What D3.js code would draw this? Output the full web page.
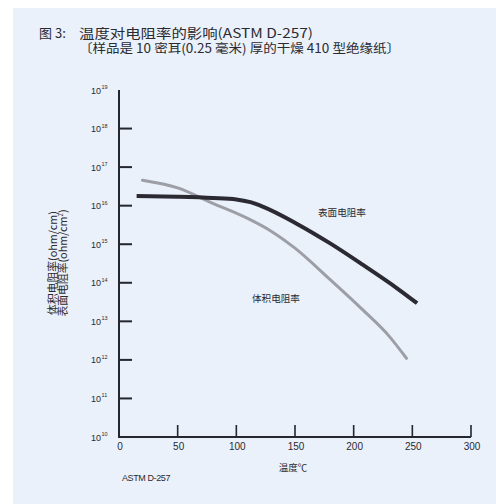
<!DOCTYPE html>
<html>
<head>
<meta charset="utf-8">
<script src="https://cdn.jsdelivr.net/npm/d3@7"></script>
<style>
  body { margin: 0; background: #fff; }
  svg { display: block; }
</style>
</head>
<body>
<div id="chart"></div>
<script>
// temperature (°C) and resistivity values
const surfaceTemp = [15, 50, 80, 100, 112, 123, 151, 180, 208, 237, 254];
const surfaceVals = [1.78e16, 1.7e16, 1.58e16, 1.45e16, 1.23e16, 9.3e15, 3.47e15, 1.05e15, 2.9e14, 7.2e13, 2.95e13];
const volumeTemp = [20, 50, 80, 110, 130, 150, 180, 208, 230, 245];
const volumeVals = [4.57e16, 2.9e16, 1.15e16, 4.6e15, 2.15e15, 7.9e14, 1.2e14, 1.95e13, 4.2e12, 1.1e12];
const xTicks = [0, 50, 100, 150, 200, 250, 300];
const yExps = [10, 11, 12, 13, 14, 15, 16, 17, 18, 19];

const W = 496, H = 504;
const svg = d3.select("#chart").append("svg")
  .attr("width", W).attr("height", H);

// scanned page background
svg.append("rect").attr("x", 13).attr("y", 8)
  .attr("width", W - 13).attr("height", H - 8)
  .attr("fill", "#eaf1fa");

const x = d3.scaleLinear().domain([0, 300]).range([119, 471]);
const y = d3.scaleLog().domain([1e10, 1e19]).range([437, 90]);

const ink = "#26262e";
const txt = "#2a2a30";
const sans = "'Liberation Sans', Arial, sans-serif";
const cjk = "'Noto Sans CJK SC', sans-serif";

// title
const title = svg.append("g")
  .style("font-family", cjk)
  .attr("fill", txt);
title.append("text").attr("x", 39).attr("y", 38)
  .style("font-size", "13px").text("图 3:");
title.append("text").attr("x", 79).attr("y", 38)
  .style("font-size", "13px")
  .attr("textLength", 234).attr("lengthAdjust", "spacingAndGlyphs")
  .text("温度对电阻率的影响(ASTM  D-257)");
title.append("text").attr("x", 79).attr("y", 53)
  .style("font-size", "12.5px")
  .attr("textLength", 321).attr("lengthAdjust", "spacingAndGlyphs")
  .text("〔样品是 10 密耳(0.25 毫米) 厚的干燥 410 型绝缘纸〕");

// axis lines
svg.append("rect")
  .attr("x", x(0) - 1).attr("y", y(1e19))
  .attr("width", 2).attr("height", y(1e10) - y(1e19) + 1)
  .attr("fill", ink);
svg.append("rect")
  .attr("x", x(0) - 1).attr("y", y(1e10) - 1)
  .attr("width", x(300) - x(0) + 1).attr("height", 2)
  .attr("fill", ink);

// y ticks point inward (to the right), none at the ends
svg.selectAll("rect.ytick")
  .data(yExps.filter(e => e > 10 && e < 19))
  .enter().append("rect")
  .attr("class", "ytick")
  .attr("x", x(0))
  .attr("y", e => y(Math.pow(10, e)) - 1)
  .attr("width", 13)
  .attr("height", 2)
  .attr("fill", ink);

// x ticks point upward
svg.selectAll("rect.xtick")
  .data(xTicks.filter(d => d > 0))
  .enter().append("rect")
  .attr("class", "xtick")
  .attr("x", d => x(d) - 0.8)
  .attr("y", y(1e10) - 12)
  .attr("width", 1.6)
  .attr("height", 12)
  .attr("fill", ink);

// y tick labels: 10 with superscript exponent
svg.selectAll("text.ylab")
  .data(yExps)
  .enter().append("text")
  .attr("class", "ylab")
  .attr("x", 101)
  .attr("y", e => y(Math.pow(10, e)) + 3.5)
  .attr("text-anchor", "end")
  .style("font-family", sans)
  .style("font-size", "9px")
  .attr("fill", txt)
  .text("10");
svg.selectAll("text.yexp")
  .data(yExps)
  .enter().append("text")
  .attr("class", "yexp")
  .attr("x", 101.5)
  .attr("y", e => y(Math.pow(10, e)) - 1)
  .style("font-family", sans)
  .style("font-size", "5.5px")
  .attr("fill", txt)
  .text(e => e);

svg.selectAll("text.xlab")
  .data(xTicks)
  .enter().append("text")
  .attr("class", "xlab")
  .attr("x", d => x(d) + 1)
  .attr("y", 450)
  .attr("text-anchor", "middle")
  .style("font-family", sans)
  .style("font-size", "10px")
  .attr("fill", txt)
  .text(d => d);

svg.append("text")
  .attr("x", 293).attr("y", 471)
  .attr("text-anchor", "middle")
  .style("font-family", cjk)
  .style("font-size", "9.5px")
  .attr("fill", txt)
  .text("温度℃");

svg.append("text")
  .attr("x", 122).attr("y", 481)
  .style("font-family", sans)
  .style("font-size", "9px")
  .style("letter-spacing", "-0.4px")
  .attr("fill", txt)
  .text("ASTM D-257");

// y axis title, two rotated lines
const ytitle = svg.append("g")
  .attr("transform", "translate(0,263) rotate(-90)")
  .style("font-family", cjk)
  .style("font-size", "10.8px")
  .attr("fill", txt)
  .attr("text-anchor", "middle");
ytitle.append("text").attr("x", 0).attr("y", 57).text("体积电阻率(ohm/cm)");
const t2 = ytitle.append("text").attr("x", 0).attr("y", 67);
t2.append("tspan").text("表面电阻率(ohm/cm");
t2.append("tspan").attr("dy", -4).style("font-size", "6px").text("2");
t2.append("tspan").attr("dy", 4).text(")");

// curves
const line = d3.line()
  .x(d => x(d[0]))
  .y(d => y(d[1]))
  .curve(d3.curveMonotoneX);

svg.append("path")
  .attr("d", line(d3.zip(volumeTemp, volumeVals)))
  .attr("fill", "none")
  .attr("stroke", "#9d9ea6")
  .attr("stroke-width", 3)
  .attr("stroke-linecap", "round");

svg.append("path")
  .attr("d", line(d3.zip(surfaceTemp, surfaceVals)))
  .attr("fill", "none")
  .attr("stroke", "#2b2a33")
  .attr("stroke-width", 4);

// curve annotations
svg.append("text")
  .attr("x", 318).attr("y", 216)
  .style("font-family", cjk)
  .style("font-size", "9.6px")
  .attr("fill", txt)
  .text("表面电阻率");
svg.append("text")
  .attr("x", 252).attr("y", 302)
  .style("font-family", cjk)
  .style("font-size", "9.6px")
  .attr("fill", txt)
  .text("体积电阻率");
</script>
</body>
</html>
